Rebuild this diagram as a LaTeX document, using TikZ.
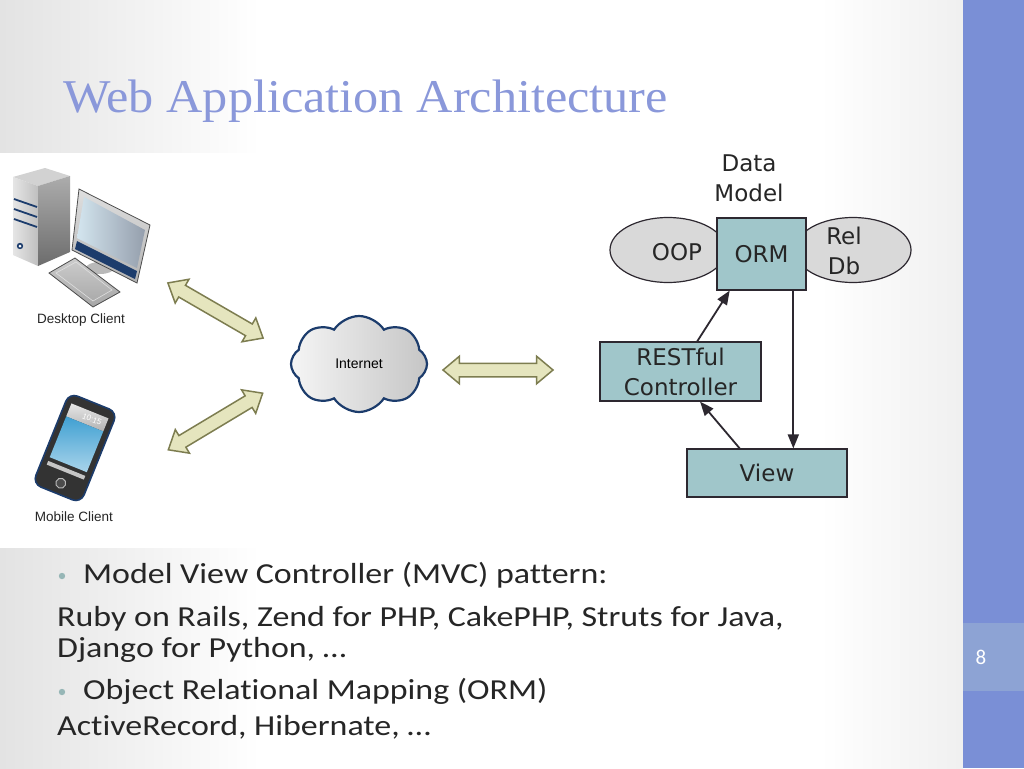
\documentclass[tikz,border=0pt]{standalone}
\usepackage{fontspec}
\setmainfont{Carlito}
\newfontfamily\bodyfont[FakeStretch=1.17, Ligatures=NoCommon]{Carlito}
\newfontfamily\titlefont[FakeStretch=1.07]{Liberation Serif}
\newfontfamily\diagfont{DejaVu Sans}
\newfontfamily\labelfont{Liberation Sans}
\usetikzlibrary{calc,arrows.meta,shapes.geometric,shapes.arrows,shapes.symbols}

\definecolor{bandblue}{RGB}{122,143,214}
\definecolor{pageblue}{RGB}{141,163,212}
\definecolor{titleblue}{RGB}{138,152,218}
\definecolor{boxteal}{RGB}{160,198,202}
\definecolor{boxline}{RGB}{45,40,48}
\definecolor{ellgray}{RGB}{217,217,217}
\definecolor{arrowkhaki}{RGB}{229,229,190}
\definecolor{arrowolive}{RGB}{125,125,80}
\definecolor{cloudnavy}{RGB}{28,60,108}
\definecolor{bulletteal}{RGB}{150,182,182}
\definecolor{bodytext}{RGB}{38,38,38}
\definecolor{screenblue}{RGB}{64,160,210}

\tikzset{
	mvcbox/.style={draw=boxline, fill=boxteal, line width=1.2pt, font=\diagfont\fontsize{23}{30}\selectfont, text=bodytext, align=center, inner sep=0pt},
	dbell/.style={ellipse, draw=boxline, fill=ellgray, line width=1.2pt, inner sep=0pt, minimum width=116pt, minimum height=65pt},
	diagtext/.style={font=\diagfont\fontsize{23}{30}\selectfont, text=bodytext, align=center, inner sep=0pt},
	flow/.style={line width=1.8pt, draw=boxline, -{Triangle[length=14pt,width=11pt]}},
	netarrow/.style={double arrow, draw=arrowolive, fill=arrowkhaki, line width=1.5pt, minimum height=110pt, inner xsep=0pt, inner ysep=6pt, double arrow head extend=7pt, double arrow tip angle=80},
	devlabel/.style={font=\labelfont\fontsize{13.5}{16}\selectfont, text=black!85, inner sep=0pt},
	bodyline/.style={anchor=base west, font=\bodyfont\fontsize{29}{34}\selectfont, text=bodytext, inner sep=0pt},
}

\begin{document}
\begin{tikzpicture}[x=1pt, y=-1pt]
	%%%%% SLIDE %%%%%
	\useasboundingbox (0,0) rectangle (1024,768);
	\fill[white] (0,0) rectangle (1024,768);
	\shade[left color=gray!22, right color=white] (0,0) rectangle (260,768);
	\shade[left color=white, right color=gray!12] (820,0) rectangle (963,768);
	\fill[white] (0,153) rectangle (585,548);

	\fill[bandblue] (963,0) rectangle (1024,768);
	\fill[pageblue] (963,623) rectangle (1024,691);
	\node[font=\fontsize{21}{24}\selectfont, text=white] (pagenum) at (981,657) {8};

	\node[anchor=base west, inner sep=0pt, font=\titlefont\fontsize{47}{56}\selectfont, text=titleblue] (title) at (63,112) {Web Application Architecture};

	%%%%% DESKTOP %%%%%
	\fill[gray!35] (13,177) -- (45,168) -- (70,176) -- (38,186) -- cycle;
	\shade[left color=gray!20, right color=gray!50] (13,177) -- (38,186) -- (38,266) -- (13,255) -- cycle;
	\shade[top color=gray!65, bottom color=gray!85!black] (38,186) -- (70,176) -- (70,252) -- (38,266) -- cycle;
	\foreach \yy in {199,209,219}
		\draw[cloudnavy, line width=1.8pt] (14,\yy) -- (37,\yy+8);
	\fill[cloudnavy] (20,246) circle (3.2);
	\fill[white] (20,246) circle (1.5);

	\fill[gray!55] (100,268) ellipse (14 and 6);
	\shade[top color=gray!25, bottom color=gray!60, draw=gray!60!black, line width=0.8pt] (79,189) -- (150,225) -- (137,283) -- (72,250) -- cycle;
	\shade[left color=gray!25!screenblue!25, right color=gray!50!cloudnavy!60] (84,197) -- (145,230) -- (137,268) -- (77,238) -- cycle;
	\fill[cloudnavy] (77,241) -- (137,271) -- (135,279) -- (75,249) -- cycle;

	\shade[top color=gray!40, bottom color=gray!70, draw=gray!60!black, line width=0.8pt] (49,273) -- (75,258) -- (120,292) -- (93,307) -- cycle;
	\draw[gray!25, line width=0.6pt] (56,273) -- (76,262) -- (112,290) -- (93,301) -- cycle;

	\node[devlabel] (desklbl) at (81,320) {Desktop Client};

	%%%%% MOBILE %%%%%
	\begin{scope}[shift={(75,448)}, rotate=-22]
		\draw[cloudnavy, line width=1.6pt, fill=black!80, rounded corners=9] (-26,-49) rectangle (26,49);
		\shade[top color=gray!20, bottom color=gray!60] (-20,-40) rectangle (20,-26);
		\node[font=\labelfont\fontsize{8}{9}\selectfont, text=white, transform shape] (clock) at (5,-33) {10:15};
		\shade[top color=screenblue, bottom color=screenblue!45!white] (-20,-26) rectangle (20,18);
		\fill[gray!45] (-20,22) rectangle (20,26);
		\draw[gray!55, line width=1pt, fill=black!70] (0,38) circle (5);
	\end{scope}
	\node[devlabel] (moblbl) at (74,517) {Mobile Client};

	%%%%% INTERNET %%%%%
	\node[cloud, cloud puffs=8, cloud puff arc=115, aspect=1.4, draw=cloudnavy, line width=2.2pt, left color=gray!8, right color=gray!45, minimum width=136pt, minimum height=96pt, font=\labelfont\fontsize{14}{16}\selectfont] (internet) at (359,364) {Internet};

	\coordinate (desk1) at (168,283);
	\coordinate (desk2) at (263,338);
	\coordinate (mob1) at (168,450);
	\coordinate (mob2) at (263,393);
	\coordinate (srv1) at (443,370);
	\coordinate (srv2) at (553,370);
	\path (desk1) -- node[netarrow, sloped] (deskarrow) {} (desk2);
	\path (mob1) -- node[netarrow, sloped] (mobarrow) {} (mob2);
	\path (srv1) -- node[netarrow, sloped] (srvarrow) {} (srv2);

	%%%%% MVC %%%%%
	\node[diagtext] (datalbl) at (749,178) {Data\\Model};
	\node[dbell] (oopell) at (668,250) {};
	\node[dbell] (relell) at (853,250) {};
	\node[diagtext] (ooptxt) at (677,252) {OOP};
	\node[diagtext] (reltxt) at (844,251) {Rel\\Db};
	\node[mvcbox, minimum width=89pt, minimum height=72pt] (orm) at (761.5,254) {ORM};
	\node[mvcbox, minimum width=161pt, minimum height=59pt] (ctrl) at (680.5,371.5) {RESTful\\Controller};
	\node[mvcbox, minimum width=160pt, minimum height=48pt] (view) at (767,473) {View};

	\draw[flow] (ctrl.61) -- (orm.229);
	\draw[flow] (orm.-49) -- (orm.-49 |- view.north);
	\draw[flow] (view.138) -- (ctrl.-57);

	%%%%% TEXT %%%%%
	\fill[bulletteal] (62,576) circle (3.2);
	\node[bodyline] (mvcline) at (83,583) {Model View Controller (MVC) pattern:};
	\node[bodyline] (fwline1) at (57,626) {Ruby on Rails, Zend for PHP, CakePHP, Struts for Java,};
	\node[bodyline] (fwline2) at (57,657) {Django for Python, …};
	\fill[bulletteal] (62,692) circle (3.2);
	\node[bodyline] (ormline) at (83,699) {Object Relational Mapping (ORM)};
	\node[bodyline] (libline) at (57,735) {ActiveRecord, Hibernate, …};
\end{tikzpicture}
\end{document}
